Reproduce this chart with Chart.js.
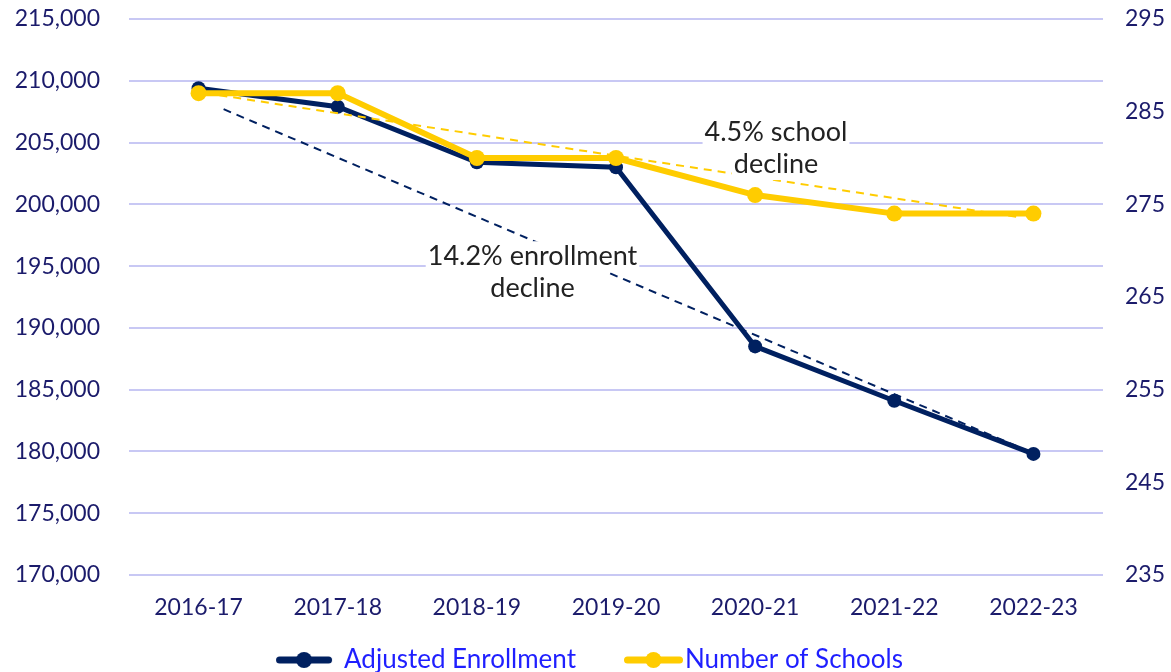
<!DOCTYPE html>
<html>
<head>
<meta charset="utf-8">
<script src="https://cdn.jsdelivr.net/npm/chart.js@4.4.0/dist/chart.umd.min.js"></script>
<style>
  html, body { margin: 0; padding: 0; background: #fff; }
  #wrap { width: 1171px; height: 672px; }
</style>
</head>
<body>
<div id="wrap"><canvas id="chart"></canvas></div>
<script>
const years = ["2016-17", "2017-18", "2018-19", "2019-20", "2020-21", "2021-22", "2022-23"];
const enrollment = [209400, 207900, 203400, 203000, 188500, 184100, 179800];
const schools = [287, 287, 280, 280, 276, 274, 274];

// hand drawn trend lines (x in category index units)
const enrollTrendX = [0.18, 5.98];
const enrollTrendY = [207700, 179950];
const schoolTrendX = [0.05, 5.9];
const schoolTrendY = [287, 273.6];

const noteLines = [["14.2% enrollment", "decline"], ["4.5% school", "decline"]];
const noteX = [2.4, 4.15];
const noteY = [195800, 282.8];
const noteAxis = ["y", "y2"];

const NAVY = "#002060";
const GOLD = "#ffcc00";
const TICK = "#1b1b6b";
const FONT = "Lato";

// legend marker: line with a dot, placed inside a wider canvas
function legendMarker(color, from, to) {
  const c = document.createElement("canvas");
  c.width = 104;
  c.height = 20;
  const ctx = c.getContext("2d");
  ctx.strokeStyle = color;
  ctx.lineWidth = 7;
  ctx.lineCap = "round";
  ctx.beginPath();
  ctx.moveTo(from + 3.5, 10);
  ctx.lineTo(to - 3.5, 10);
  ctx.stroke();
  ctx.fillStyle = color;
  ctx.beginPath();
  ctx.arc((from + to) / 2, 10, 8, 0, Math.PI * 2);
  ctx.fill();
  return c;
}
const markers = [legendMarker(NAVY, 35, 91), legendMarker(GOLD, 42, 101)];

const notesPlugin = {
  id: "notes",
  afterDatasetsDraw(chart) {
    const ctx = chart.ctx;
    const xs = chart.scales.xt;
    ctx.save();
    ctx.font = "27px " + FONT;
    ctx.textAlign = "center";
    ctx.textBaseline = "middle";
    noteLines.forEach((lines, i) => {
      const cx = xs.getPixelForValue(noteX[i]);
      const cy = chart.scales[noteAxis[i]].getPixelForValue(noteY[i]);
      lines.forEach((txt, j) => {
        const y = cy + j * 32;
        const w = ctx.measureText(txt).width + 4;
        ctx.fillStyle = "#ffffff";
        ctx.fillRect(cx - w / 2, y - 15, w, 31);
        ctx.fillStyle = "#222222";
        ctx.fillText(txt, cx, y);
      });
    });
    ctx.restore();
  },
};

new Chart(document.getElementById("chart"), {
  type: "line",
  data: {
    labels: years,
    datasets: [
      {
        label: "Adjusted Enrollment",
        data: enrollment,
        yAxisID: "y",
        borderColor: NAVY,
        backgroundColor: NAVY,
        borderWidth: 5,
        pointRadius: 7,
        pointBorderWidth: 0,
        order: 4,
      },
      {
        label: "Number of Schools",
        data: schools,
        yAxisID: "y2",
        borderColor: GOLD,
        backgroundColor: GOLD,
        borderWidth: 6,
        pointRadius: 8,
        pointBorderWidth: 0,
        order: 3,
      },
      {
        label: "enrollTrend",
        data: enrollTrendX.map((x, i) => ({ x, y: enrollTrendY[i] })),
        xAxisID: "xt",
        yAxisID: "y",
        borderColor: NAVY,
        borderWidth: 2,
        borderDash: [8, 6],
        pointRadius: 0,
        order: 2,
      },
      {
        label: "schoolTrend",
        data: schoolTrendX.map((x, i) => ({ x, y: schoolTrendY[i] })),
        xAxisID: "xt",
        yAxisID: "y2",
        borderColor: GOLD,
        borderWidth: 2,
        borderDash: [8, 6],
        pointRadius: 0,
        order: 1,
      },
    ],
  },
  options: {
    responsive: true,
    maintainAspectRatio: false,
    animation: false,
    // negative left padding nudges the centred legend to the left
    layout: { padding: { top: 19, left: -13, right: 0, bottom: -11 } },
    plugins: {
      tooltip: { enabled: false },
      legend: {
        position: "bottom",
        labels: {
          usePointStyle: true,
          pointStyleWidth: 76,
          padding: 20,
          color: "#1f1fff",
          font: { family: FONT, size: 26 },
          generateLabels: (chart) =>
            Chart.defaults.plugins.legend.labels
              .generateLabels(chart)
              .filter((it) => it.datasetIndex < 2)
              .map((it) => ({ ...it, pointStyle: markers[it.datasetIndex] })),
          sort: (a, b) => a.datasetIndex - b.datasetIndex,
        },
      },
    },
    scales: {
      x: {
        offset: true,
        grid: { display: false },
        border: { display: false },
        ticks: { color: TICK, font: { family: FONT, size: 23 }, padding: 11 },
        afterFit: (s) => { s.height = 52; },
      },
      xt: {
        type: "linear",
        display: false,
        min: -0.5,
        max: 6.5,
      },
      y: {
        position: "left",
        min: 170000,
        max: 215000,
        // tick marks are invisible, their length just spaces the labels
        grid: { color: "#c8c8f4", lineWidth: 2, tickLength: 29, tickColor: "rgba(0,0,0,0)" },
        border: { display: false },
        ticks: {
          stepSize: 5000,
          padding: 0,
          color: TICK,
          font: { family: FONT, size: 23 },
          callback: (v) => v.toLocaleString("en-US"),
        },
        afterFit: (s) => { s.width = 142; },
      },
      y2: {
        position: "right",
        min: 235,
        max: 295,
        grid: { drawOnChartArea: false, tickLength: 22, tickColor: "rgba(0,0,0,0)" },
        border: { display: false },
        ticks: {
          stepSize: 10,
          padding: 0,
          color: TICK,
          font: { family: FONT, size: 23 },
        },
        afterFit: (s) => { s.width = 68; },
      },
    },
  },
  plugins: [notesPlugin],
});
</script>
</body>
</html>
